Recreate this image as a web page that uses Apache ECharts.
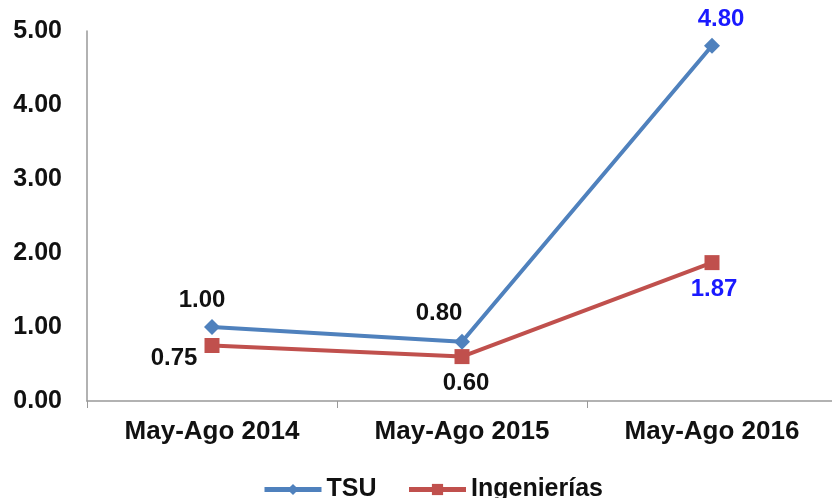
<!DOCTYPE html>
<html><head><meta charset="utf-8">
<script src="https://cdn.jsdelivr.net/npm/echarts@6/dist/echarts.min.js"></script>
<style>html,body{margin:0;padding:0;background:#fff}#c{width:832px;height:498px}</style>
</head><body><div id="c"></div>
<script>
const categories = ["May-Ago 2014", "May-Ago 2015", "May-Ago 2016"];
const tsu = [1.00, 0.80, 4.80];
const ing = [0.75, 0.60, 1.87];
const yTicks = [0, 1, 2, 3, 4, 5];

const FONT = "Liberation Sans, Arial, sans-serif";
function lbl(offset, color) {
  return { show: true, position: 'inside', offset: offset, color: color,
    fontFamily: FONT, fontWeight: 'bold', fontSize: 24,
    formatter: p => p.value.toFixed(2) };
}
const tsuOff = [[-10, -27], [-23, -28], [9, -26]];
const tsuCol = ['#111', '#111', '#1a1aff'];
const ingOff = [[-38, 13], [4, 27], [2, 27]];
const ingCol = ['#111', '#111', '#1a1aff'];

const chart = echarts.init(document.getElementById('c'));
chart.setOption({
  animation: false,
  grid: { left: 87, width: 750, top: 31, bottom: 97, containLabel: false, outerBoundsMode: 'none' },
  xAxis: {
    type: 'category', data: categories, boundaryGap: true,
    axisLine: { lineStyle: { color: '#999', width: 1.5 } },
    axisTick: { show: true, length: 7, lineStyle: { color: '#999' } },
    axisLabel: { color: '#111', fontFamily: FONT, fontWeight: 'bold', fontSize: 26, margin: 18 }
  },
  yAxis: {
    type: 'value', min: yTicks[0], max: yTicks[yTicks.length - 1], interval: 1,
    axisLine: { show: true, lineStyle: { color: '#999', width: 1.5 } },
    axisTick: { show: false },
    splitLine: { show: false },
    axisLabel: { color: '#111', fontFamily: FONT, fontWeight: 'bold', fontSize: 25, margin: 25,
      formatter: v => v.toFixed(2) }
  },
  legend: {
    top: 472, left: 257, itemWidth: 57, itemHeight: 14, itemGap: 30,
    textStyle: { color: '#111', fontFamily: FONT, fontWeight: 'bold', fontSize: 25 },
    lineStyle: { width: 5 },
    data: ['TSU', 'Ingenierías']
  },
  series: [
    { name: 'TSU', type: 'line', symbol: 'diamond', symbolSize: 16,
      lineStyle: { color: '#4F81BD', width: 4 }, itemStyle: { color: '#4F81BD' },
      data: tsu.map((v, i) => ({ value: v, label: lbl(tsuOff[i], tsuCol[i]) })) },
    { name: 'Ingenierías', type: 'line', symbol: 'rect', symbolSize: 15,
      lineStyle: { color: '#C0504D', width: 4 }, itemStyle: { color: '#C0504D' },
      data: ing.map((v, i) => ({ value: v, label: lbl(ingOff[i], ingCol[i]) })) }
  ]
});
</script></body></html>
